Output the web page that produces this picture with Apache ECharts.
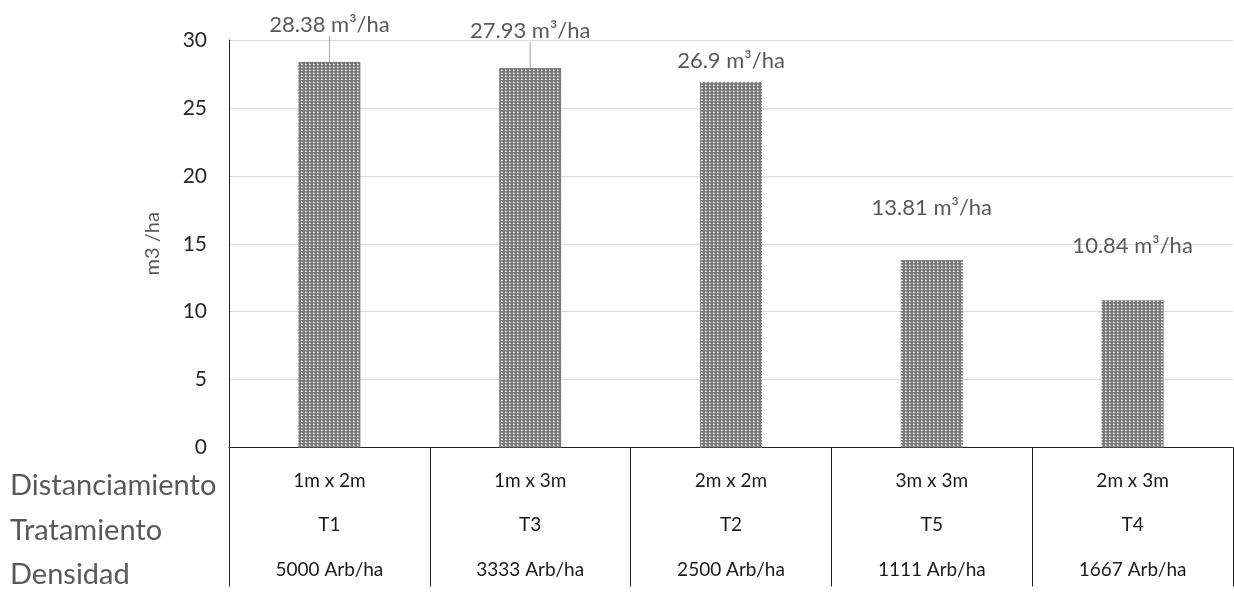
<!DOCTYPE html>
<html>
<head>
<meta charset="utf-8">
<title>Volumen por tratamiento</title>
<script src="https://cdn.jsdelivr.net/npm/echarts@6/dist/echarts.min.js"></script>
<style>
  html, body { margin: 0; padding: 0; background: #fff; overflow: hidden; }
  #chart { width: 1234px; height: 592px; }
</style>
</head>
<body>
<div id="chart"></div>
<script>
// Treatments in display order
const treatments = ['T1', 'T3', 'T2', 'T5', 'T4'];
const spacing = ['1m x 2m', '1m x 3m', '2m x 2m', '3m x 3m', '2m x 3m'];
const density = ['5000 Arb/ha', '3333 Arb/ha', '2500 Arb/ha', '1111 Arb/ha', '1667 Arb/ha'];
const volume = [28.38, 27.93, 26.9, 13.81, 10.84];
const rowHeaders = ['Distanciamiento', 'Tratamiento', 'Densidad'];
const yTicks = { min: 0, max: 30, interval: 5 };

// Vertical nudge of each value label above its bar
const labelShift = [-21, -21, -5, -36, -38];
const showLeader = [true, true, false, false, false];

const FONT = 'Lato, "Open Sans", sans-serif';

// Dotted grey fill for the bars
function makePattern() {
  const c = document.createElement('canvas');
  c.width = 4; c.height = 3;
  const g = c.getContext('2d');
  g.fillStyle = '#7a7a7a';
  g.fillRect(0, 0, 4, 3);
  g.fillStyle = '#f4f4f4';
  g.fillRect(1, 1, 1, 1);
  g.fillStyle = '#d6d6d6';
  g.fillRect(2, 1, 1, 1);
  g.fillStyle = '#b0b0b0';
  g.fillRect(1, 0, 1, 1);
  return c;
}
const pattern = makePattern();

const chart = echarts.init(document.getElementById('chart'), null, {
  renderer: 'canvas', width: 1234, height: 592
});

const rowY = [486, 531, 575];
const headerSize = 29;

chart.setOption({
  animation: false,
  grid: { left: 229, right: 1, top: 40, height: 413, containLabel: false },
  xAxis: {
    type: 'category',
    data: treatments,
    boundaryGap: true,
    axisLine: { show: true, lineStyle: { color: '#222', width: 1 } },
    axisTick: { show: true, interval: 0, length: 139, inside: false, alignWithLabel: false,
                lineStyle: { color: '#222', width: 1 } },
    axisLabel: {
      interval: 0,
      margin: 11,
      lineHeight: 44.5,
      fontSize: 19,
      fontFamily: FONT,
      color: '#1a1a1a',
      formatter: (v, i) => spacing[i] + '\n' + v + '\n' + density[i]
    },
    splitLine: { show: false }
  },
  yAxis: {
    type: 'value',
    min: yTicks.min, max: yTicks.max, interval: yTicks.interval,
    name: 'm3 /ha',
    nameLocation: 'middle',
    nameGap: 66,
    nameRotate: 90,
    nameTextStyle: { fontSize: 20, fontFamily: FONT, color: '#595959' },
    axisLine: { show: true, lineStyle: { color: '#222', width: 1 } },
    axisTick: { show: false },
    axisLabel: { fontSize: 21, fontFamily: FONT, color: '#262626', margin: 22 },
    splitLine: { show: true, lineStyle: { color: '#d9d9d9', width: 1 } }
  },
  series: [{
    type: 'bar',
    data: volume.map((v, i) => ({
      value: v,
      labelLine: { show: showLeader[i] }
    })),
    barWidth: 62,
    itemStyle: { color: { image: pattern, repeat: 'repeat' } },
    label: {
      show: true,
      position: 'top',
      distance: 5,
      fontSize: 22,
      fontFamily: FONT,
      color: '#595959',
      formatter: p => p.value + ' m³/ha'
    },
    labelLine: { lineStyle: { color: '#a6a6a6', width: 1 } },
    labelLayout: p => ({ dy: labelShift[p.dataIndex] })
  }],
  graphic: rowHeaders.map((t, i) => ({
    type: 'text',
    left: 10,
    top: rowY[i] - headerSize / 2,
    style: { text: t, fontSize: headerSize, fontFamily: FONT, fill: '#595959' }
  }))
});
</script>
</body>
</html>
